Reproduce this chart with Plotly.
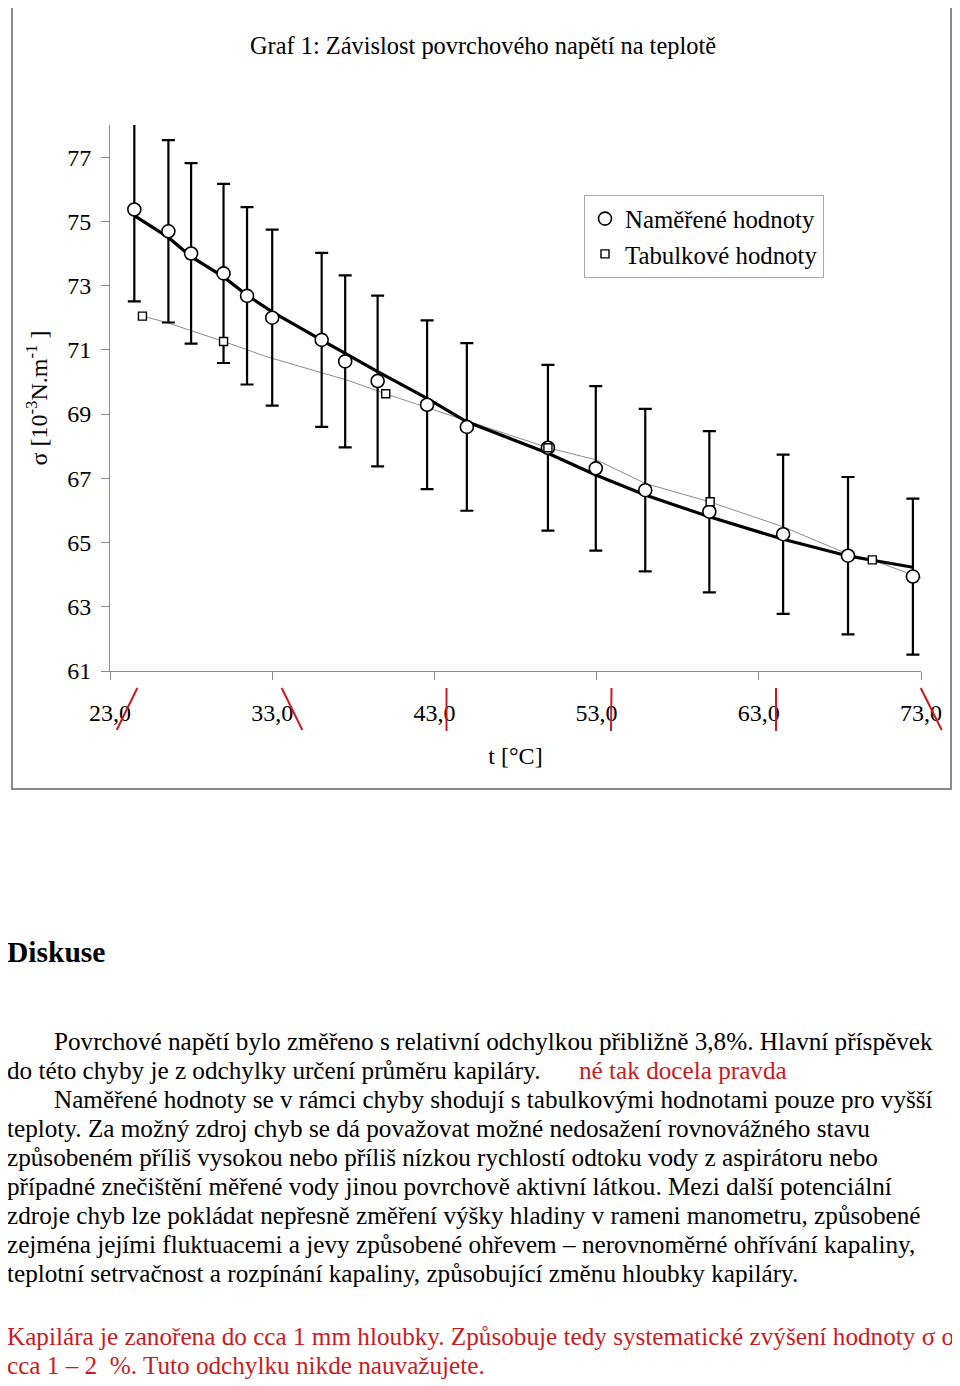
import plotly.graph_objects as go

# ---- data ----
t_meas = [24.5, 26.6, 28.0, 30.0, 31.45, 33.0, 36.05, 37.5, 39.5, 42.55, 45.0, 50.0, 52.95, 56.0, 59.95, 64.5, 68.5, 72.5]
sigma_meas = [75.37, 74.69, 74.00, 73.38, 72.68, 72.00, 71.31, 70.64, 70.03, 69.29, 68.60, 67.95, 67.31, 66.63, 65.96, 65.26, 64.59, 63.94]
sigma_err = [2.86, 2.84, 2.81, 2.79, 2.76, 2.74, 2.71, 2.68, 2.66, 2.63, 2.61, 2.58, 2.56, 2.53, 2.51, 2.48, 2.45, 2.43]

t_fit = [24.5, 26.6, 28.0, 30.0, 31.45, 33.0, 36.05, 37.5, 39.5, 42.55, 45.0, 50.0, 52.95, 56.0, 59.95, 64.5, 68.5, 72.5]
sigma_fit = [75.18, 74.50, 73.90, 73.27, 72.70, 72.18, 71.30, 70.89, 70.32, 69.49, 68.76, 67.78, 67.10, 66.48, 65.80, 65.10, 64.58, 64.23]

t_tab = [25.0, 30.0, 40.0, 50.0, 60.0, 70.0]
sigma_tab = [72.05, 71.26, 69.63, 67.95, 66.27, 64.46]

t_tabline = [25.0, 26.5, 30.0, 32.7, 35.95, 37.6, 40.0, 45.8, 50.0, 53.0, 56.0, 59.95, 64.5, 68.4, 70.0, 73.0]
sigma_tabline = [72.05, 71.85, 71.26, 70.78, 70.30, 70.06, 69.63, 68.66, 67.95, 67.57, 66.84, 66.27, 65.49, 64.66, 64.46, 63.89]

x_ticks = [23, 33, 43, 53, 63, 73]
x_ticktext = ["23,0", "33,0", "43,0", "53,0", "63,0", "73,0"]
y_ticks = [61, 63, 65, 67, 69, 71, 73, 75, 77]

title_text = "Graf 1: Závislost povrchového napětí na teplotě"
x_title = "t [°C]"
y_title = "σ [10<sup>-3</sup>N.m<sup>-1</sup> ]"
legend_names = ["Naměřené hodnoty", "Tabulkové hodnoty"]

heading = "Diskuse"
para_black = [
    "Povrchové napětí bylo změřeno s relativní odchylkou přibližně 3,8%. Hlavní příspěvek",
    "do této chyby je z odchylky určení průměru kapiláry.",
    "Naměřené hodnoty se v rámci chyby shodují s tabulkovými hodnotami pouze pro vyšší",
    "teploty. Za možný zdroj chyb se dá považovat možné nedosažení rovnovážného stavu",
    "způsobeném příliš vysokou nebo příliš nízkou rychlostí odtoku vody z aspirátoru nebo",
    "případné znečištění měřené vody jinou povrchově aktivní látkou. Mezi další potenciální",
    "zdroje chyb lze pokládat nepřesně změření výšky hladiny v rameni manometru, způsobené",
    "zejména jejími fluktuacemi a jevy způsobené ohřevem – nerovnoměrné ohřívání kapaliny,",
    "teplotní setrvačnost a rozpínání kapaliny, způsobující změnu hloubky kapiláry.",
]
note_inline = "né tak docela pravda"
para_red = [
    "Kapilára je zanořena do cca 1 mm hloubky. Způsobuje tedy systematické zvýšení hodnoty σ o",
    "cca 1 – 2  %. Tuto odchylku nikde nauvažujete.",
]

# ---- layout geometry (page pixels; the page body adds an 8px margin) ----
OFF = 8
W, H = 960 - OFF, 1386 - OFF
L, R, T, B = 110, 921, 125, 671          # plot area in page pixels
PW, PH = R - L, B - T
SERIF = "Liberation Serif, Times New Roman, serif"
RED = "#cc1a22"


def px(x):
    return (x - L) / PW


def py(y):
    return (B - y) / PH


fig = go.Figure()

fig.add_trace(go.Scatter(
    x=t_tabline, y=sigma_tabline, mode="lines",
    line=dict(color="#8c8c8c", width=1), showlegend=False, hoverinfo="skip"))

fig.add_trace(go.Scatter(
    x=t_fit, y=sigma_fit, mode="lines",
    line=dict(color="black", width=3.2), showlegend=False, hoverinfo="skip"))

fig.add_trace(go.Scatter(
    x=t_meas, y=sigma_meas, mode="markers", name=legend_names[0], legendrank=1,
    marker=dict(symbol="circle", size=13, color="white", line=dict(color="black", width=1.6)),
    error_y=dict(type="data", array=sigma_err, visible=True, color="black", thickness=2.2, width=6.5)))

fig.add_trace(go.Scatter(
    x=t_tab, y=sigma_tab, mode="markers", name=legend_names[1], legendrank=2,
    marker=dict(symbol="square", size=8, color="white", line=dict(color="black", width=1.4))))

shapes = []
# outer chart border
shapes.append(dict(type="rect", xref="paper", yref="paper",
                   x0=px(12), x1=px(951), y0=py(789), y1=py(4),
                   line=dict(color="#8a8a8a", width=2), layer="below"))
# red correction strokes over the tick labels
red_strokes = [
    (116.7, 730, 137.3, 688),
    (281.7, 688, 302.3, 730),
    (446.5, 688, 446.5, 731),
    (611.5, 688, 611.0, 731),
    (776.0, 688, 776.0, 731),
    (920.7, 688, 941.7, 730),
]
for x0, y0, x1, y1 in red_strokes:
    shapes.append(dict(type="line", xref="paper", yref="paper",
                       x0=px(x0), y0=py(y0), x1=px(x1), y1=py(y1),
                       line=dict(color=RED, width=2)))

PFONT = 25.2
annotations = []
annotations.append(dict(text=heading, xref="paper", yref="paper", x=px(5), y=py(952),
                        xanchor="left", yanchor="middle", showarrow=False,
                        font=dict(family=SERIF, size=29.5, color="black", weight="bold")))
line_y = [1041, 1070, 1099, 1128, 1157, 1186, 1215, 1244, 1273]
line_x = [52, 5, 52, 5, 5, 5, 5, 5, 5]
for txt, yy, xx in zip(para_black, line_y, line_x):
    annotations.append(dict(text=txt, xref="paper", yref="paper", x=px(xx), y=py(yy),
                            xanchor="left", yanchor="middle", showarrow=False,
                            font=dict(family=SERIF, size=PFONT, color="black")))
annotations.append(dict(text=note_inline, xref="paper", yref="paper", x=px(577), y=py(1070),
                        xanchor="left", yanchor="middle", showarrow=False,
                        font=dict(family=SERIF, size=PFONT, color=RED)))
for txt, yy in zip(para_red, [1336, 1365]):
    annotations.append(dict(text=txt, xref="paper", yref="paper", x=px(5), y=py(yy),
                            xanchor="left", yanchor="middle", showarrow=False,
                            font=dict(family=SERIF, size=PFONT, color=RED)))

axis_common = dict(showline=True, linecolor="#8a8a8a", linewidth=1, ticks="outside",
                   ticklen=8, tickcolor="#8a8a8a", tickwidth=1, showgrid=False, zeroline=False,
                   tickfont=dict(family=SERIF, size=24, color="black"))

fig.update_layout(
    width=W, height=H,
    margin=dict(l=L - OFF, r=W - (R - OFF), t=T - OFF, b=H - (B - OFF), autoexpand=False),
    paper_bgcolor="white", plot_bgcolor="white",
    font=dict(family=SERIF, size=24, color="black"),
    title=dict(text=title_text, x=(483 - OFF) / W, xanchor="center", y=1 - (45 - OFF) / H,
               yanchor="middle", font=dict(family=SERIF, size=24.4, color="black")),
    xaxis=dict(range=[23, 73], tickvals=x_ticks, ticktext=x_ticktext, ticklabelstandoff=12,
               title=dict(text=x_title, standoff=22, font=dict(family=SERIF, size=24)),
               **axis_common),
    yaxis=dict(range=[61, 78], tickvals=y_ticks, ticklabelstandoff=5,
               title=dict(text=y_title, standoff=12, font=dict(family=SERIF, size=24)),
               **axis_common),
    legend=dict(x=px(584), y=py(195), xanchor="left", yanchor="top",
                bordercolor="#a8a8a8", borderwidth=1, bgcolor="white",
                font=dict(family=SERIF, size=24.8, color="black"), itemwidth=30),
    shapes=shapes, annotations=annotations, showlegend=True,
)

fig.write_html("out.html")
